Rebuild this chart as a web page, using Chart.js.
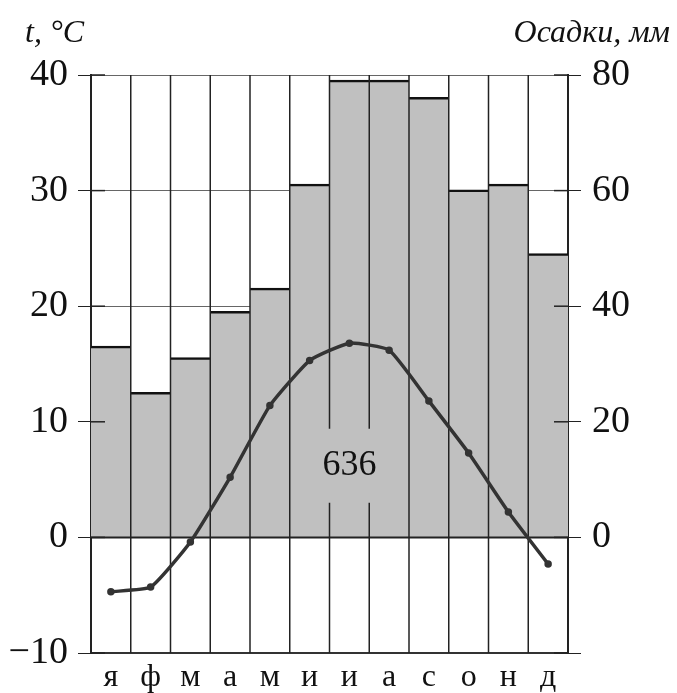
<!DOCTYPE html>
<html lang="ru">
  <head>
    <meta charset="utf-8" />
    <title>Климатограмма</title>
    <style>
      * {
        margin: 0;
        padding: 0;
      }
      body {
        background: white;
      }
      .chartBox {
        width: 677px;
        height: 693px;
      }
    </style>
  </head>
  <body>
    <div class="chartBox">
      <canvas id="myChart"></canvas>
    </div>

    <script src="https://cdn.jsdelivr.net/npm/chart.js@4.4.0/dist/chart.umd.min.js"></script>

    <script>
      // data block
      const months = ["я", "ф", "м", "а", "м", "и", "и", "а", "с", "о", "н", "д"];
      const precip = [33, 25, 31, 39, 43, 61, 79, 79, 76, 60, 61, 49];
      const temps = [-4.7, -4.3, -0.4, 5.2, 11.4, 15.3, 16.8, 16.2, 11.8, 7.3, 2.2, -2.3];
      const tempTicks = ["\u221210", "0", "10", "20", "30", "40"];
      const precipTicks = ["", "0", "20", "40", "60", "80"];
      const totalLabel = "636";
      const leftTitle = "t, °C";
      const rightTitle = "Осадки, мм";

      const serif = '"Liberation Serif", "DejaVu Serif", serif';
      const barFill = "#c0c0c0";

      function seg(ctx, x1, y1, x2, y2) {
        ctx.beginPath();
        ctx.moveTo(x1, y1);
        ctx.lineTo(x2, y2);
        ctx.stroke();
      }

      // month separators, zero line, inner ticks and the sum label
      const frame = {
        id: "frame",
        afterDatasetDraw(chart, args) {
          if (args.index !== 0) return;
          const { ctx, chartArea: a, scales } = chart;
          const x = scales.x;
          const y = scales.y;
          ctx.save();
          ctx.strokeStyle = "#222";

          ctx.lineWidth = 2;
          const y0 = y.getPixelForValue(0);
          seg(ctx, a.left, y0, a.right, y0);

          ctx.lineWidth = 1.5;
          y.ticks.forEach((t) => {
            const py = y.getPixelForValue(t.value);
            seg(ctx, a.left, py, a.left + 14, py);
            seg(ctx, a.right - 14, py, a.right, py);
          });

          const w = x.getPixelForValue(1) - x.getPixelForValue(0);
          const ly = y.getPixelForValue(6.2);

          // plain patch behind the sum label (hides bar seams)
          ctx.fillStyle = barFill;
          const gx = x.getPixelForValue(6) - w / 2;
          ctx.fillRect(gx - 4, ly - 37, w + 8, 74);

          for (let i = 1; i < months.length; i++) {
            const px = x.getPixelForValue(i) - w / 2;
            if (i === 6 || i === 7) {
              seg(ctx, px, a.top, px, ly - 37);
              seg(ctx, px, ly + 37, px, a.bottom);
            } else {
              seg(ctx, px, a.top, px, a.bottom);
            }
          }

          ctx.font = "36px " + serif;
          ctx.fillStyle = "#111";
          ctx.textAlign = "center";
          ctx.textBaseline = "middle";
          ctx.fillText(totalLabel, x.getPixelForValue(6), ly);
          ctx.restore();
        },
        afterDraw(chart) {
          const { ctx } = chart;
          ctx.save();
          ctx.font = "italic 32px " + serif;
          ctx.fillStyle = "#111";
          ctx.textBaseline = "alphabetic";
          ctx.textAlign = "left";
          ctx.fillText(leftTitle, 25, 42);
          ctx.textAlign = "right";
          ctx.fillText(rightTitle, 670, 42);
          ctx.restore();
        },
      };

      // config block
      const config = {
        data: {
          labels: months,
          datasets: [
            {
              type: "bar",
              data: precip,
              yAxisID: "y1",
              order: 1,
              backgroundColor: barFill,
              borderColor: "#111",
              borderWidth: { top: 2.5, left: 0, right: 0, bottom: 0 },
              borderSkipped: "start",
              inflateAmount: 1,
              barPercentage: 1,
              categoryPercentage: 1,
            },
            {
              type: "line",
              data: temps,
              yAxisID: "y",
              order: 0,
              borderColor: "#333",
              backgroundColor: "#333",
              borderWidth: 3.5,
              pointRadius: 2,
              tension: 0.15,
            },
          ],
        },
        options: {
          responsive: true,
          maintainAspectRatio: false,
          animation: false,
          layout: {
            padding: { top: 75, left: 0, right: 0, bottom: 0 },
          },
          scales: {
            x: {
              grid: { display: false, drawTicks: false },
              border: { color: "#333", width: 2 },
              ticks: {
                color: "#111",
                padding: 5,
                font: { family: serif, size: 32 },
              },
              afterFit: (s) => {
                s.height = 40;
              },
            },
            y: {
              position: "left",
              min: -10,
              max: 40,
              ticks: {
                stepSize: 10,
                color: "#111",
                padding: 10,
                font: { family: serif, size: 38 },
                callback: (v, i) => tempTicks[i],
              },
              grid: {
                color: "#666",
                lineWidth: 1,
                tickLength: 13,
                tickColor: "#222",
              },
              border: { color: "#222", width: 2 },
              afterFit: (s) => {
                s.width = 91;
              },
            },
            y1: {
              position: "right",
              min: -20,
              max: 80,
              ticks: {
                stepSize: 20,
                color: "#111",
                padding: 11,
                font: { family: serif, size: 38 },
                callback: (v, i) => precipTicks[i],
              },
              grid: {
                drawOnChartArea: false,
                tickLength: 13,
                tickColor: "#222",
              },
              border: { color: "#222", width: 2 },
              afterFit: (s) => {
                s.width = 109;
              },
            },
          },
          plugins: {
            legend: { display: false },
            tooltip: { enabled: false },
          },
        },
        plugins: [frame],
      };

      // init render block
      const myChart = new Chart(document.getElementById("myChart"), config);
    </script>
  </body>
</html>
